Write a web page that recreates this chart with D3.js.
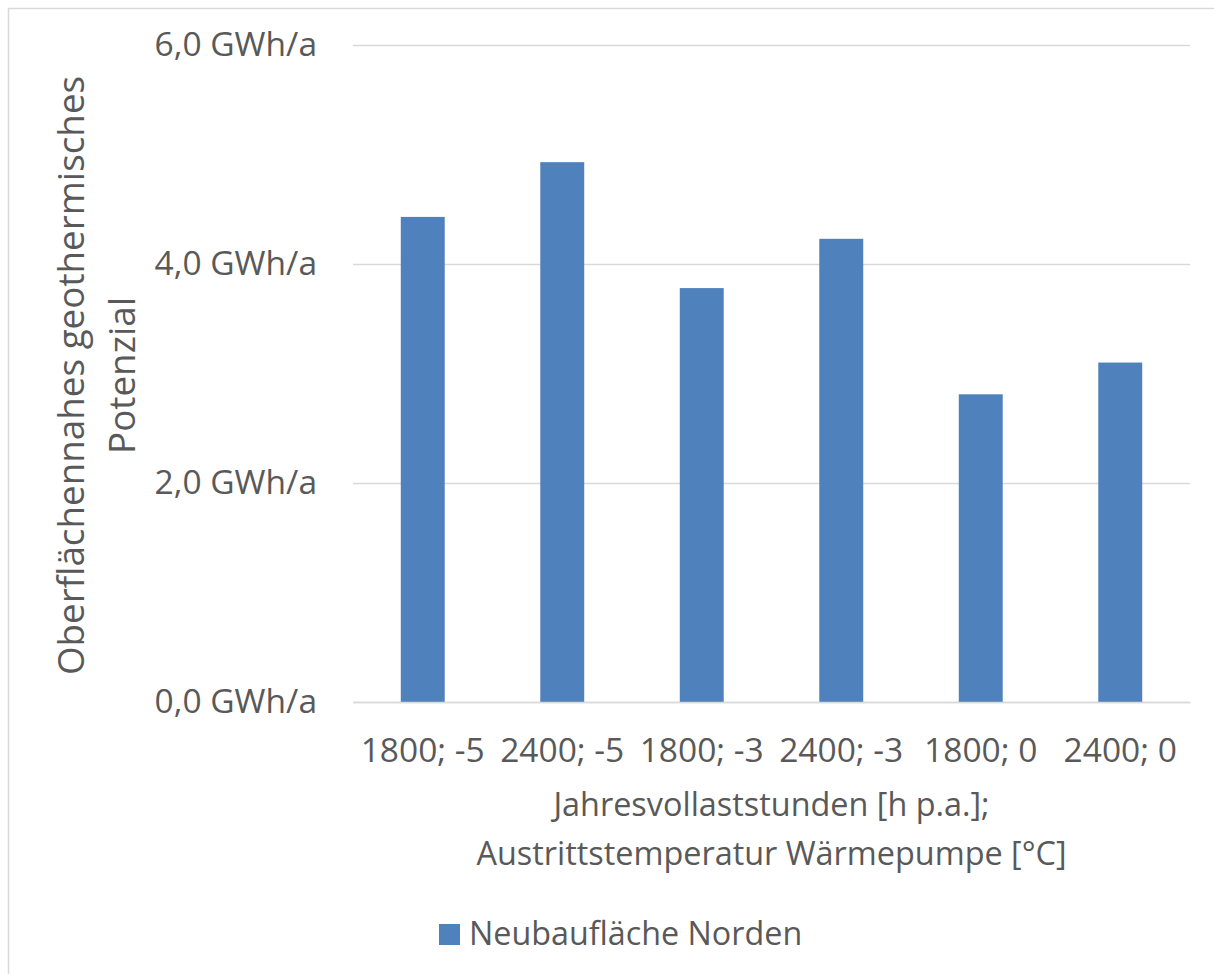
<!DOCTYPE html>
<html>
<head>
<meta charset="utf-8">
<script src="https://cdn.jsdelivr.net/npm/d3@7"></script>
<style>
  html, body { margin: 0; padding: 0; background: #fff; }
  svg { display: block; overflow: hidden; }
  text { font-family: "Open Sans", "Noto Sans", sans-serif; fill: #595959; }
</style>
</head>
<body>
<script>
// Bar chart: near-surface geothermal potential by full-load hours and heat pump outlet temperature
const categories = ["1800; -5", "2400; -5", "1800; -3", "2400; -3", "1800; 0", "2400; 0"];
const values = [4.43, 4.93, 3.78, 4.23, 2.81, 3.10];
const yTicks = [0, 2, 4, 6];
const seriesName = "Neubaufläche Norden";
const yTitleLines = ["Oberflächennahes geothermisches", "Potenzial"];
const xTitleLines = ["Jahresvollaststunden [h p.a.];", "Austrittstemperatur Wärmepumpe [°C]"];

const W = 1214, H = 974;
const plot = { left: 353, right: 1190, top: 45, bottom: 702 };
const barColor = "#4f81bd";
const gridColor = "#d9d9d9";
const tickFont = 33.5;
const xTitleFont = 32.4;
const yTitleFont = 36.8;
const legendFont = 32.3;

const svg = d3.select("body").append("svg")
  .attr("width", W).attr("height", H);

// chart area frame
svg.append("rect")
  .attr("x", 8.5).attr("y", 8.5)
  .attr("width", W + 100).attr("height", H + 100)
  .attr("fill", "#fff")
  .attr("stroke", gridColor).attr("stroke-width", 1.5);

const x = d3.scaleBand()
  .domain(categories)
  .range([plot.left, plot.right])
  .paddingInner(0.685)
  .paddingOuter(0.3425);

const y = d3.scaleLinear()
  .domain([0, 6])
  .range([plot.bottom, plot.top]);

const fmt = v => d3.format(".1f")(v).replace(".", ",") + " GWh/a";

// value axis with gridlines
const yAxis = svg.append("g")
  .attr("transform", `translate(${plot.left},0)`)
  .call(d3.axisLeft(y)
    .tickValues(yTicks)
    .tickSize(-(plot.right - plot.left))
    .tickPadding(36)
    .tickFormat(fmt));
yAxis.select(".domain").remove();
yAxis.selectAll(".tick line")
  .attr("stroke", gridColor).attr("stroke-width", 1.5);
yAxis.selectAll(".tick text")
  .style("font-size", tickFont + "px")
  .attr("fill", "#595959");

// bars
svg.append("g").selectAll("rect")
  .data(values)
  .join("rect")
  .attr("x", (d, i) => x(categories[i]))
  .attr("y", d => y(d))
  .attr("width", x.bandwidth())
  .attr("height", d => y(0) - y(d))
  .attr("fill", barColor);

// category axis
const xAxis = svg.append("g")
  .attr("transform", `translate(0,${plot.bottom})`)
  .call(d3.axisBottom(x).tickSize(0).tickPadding(36));
xAxis.select(".domain")
  .attr("stroke", gridColor).attr("stroke-width", 1.5);
xAxis.selectAll(".tick text")
  .style("font-size", tickFont + "px")
  .attr("fill", "#595959");

// axis titles
const cx = (plot.left + plot.right) / 2;
svg.append("g").selectAll("text")
  .data(xTitleLines)
  .join("text")
  .attr("x", cx)
  .attr("y", (d, i) => 816 + i * 49)
  .attr("text-anchor", "middle")
  .style("font-size", xTitleFont + "px")
  .text(d => d);

const cy = (plot.top + plot.bottom) / 2;
svg.append("g").selectAll("text")
  .data(yTitleLines)
  .join("text")
  .attr("transform", (d, i) => `translate(${84 + i * 51},${cy + 2}) rotate(-90)`)
  .attr("text-anchor", "middle")
  .style("font-size", yTitleFont + "px")
  .text(d => d);

// legend
const legend = svg.append("g");
legend.append("rect")
  .attr("x", 439).attr("y", 924)
  .attr("width", 21).attr("height", 21)
  .attr("fill", barColor);
legend.append("text")
  .attr("x", 469).attr("y", 945)
  .style("font-size", legendFont + "px")
  .text(seriesName);
</script>
</body>
</html>
